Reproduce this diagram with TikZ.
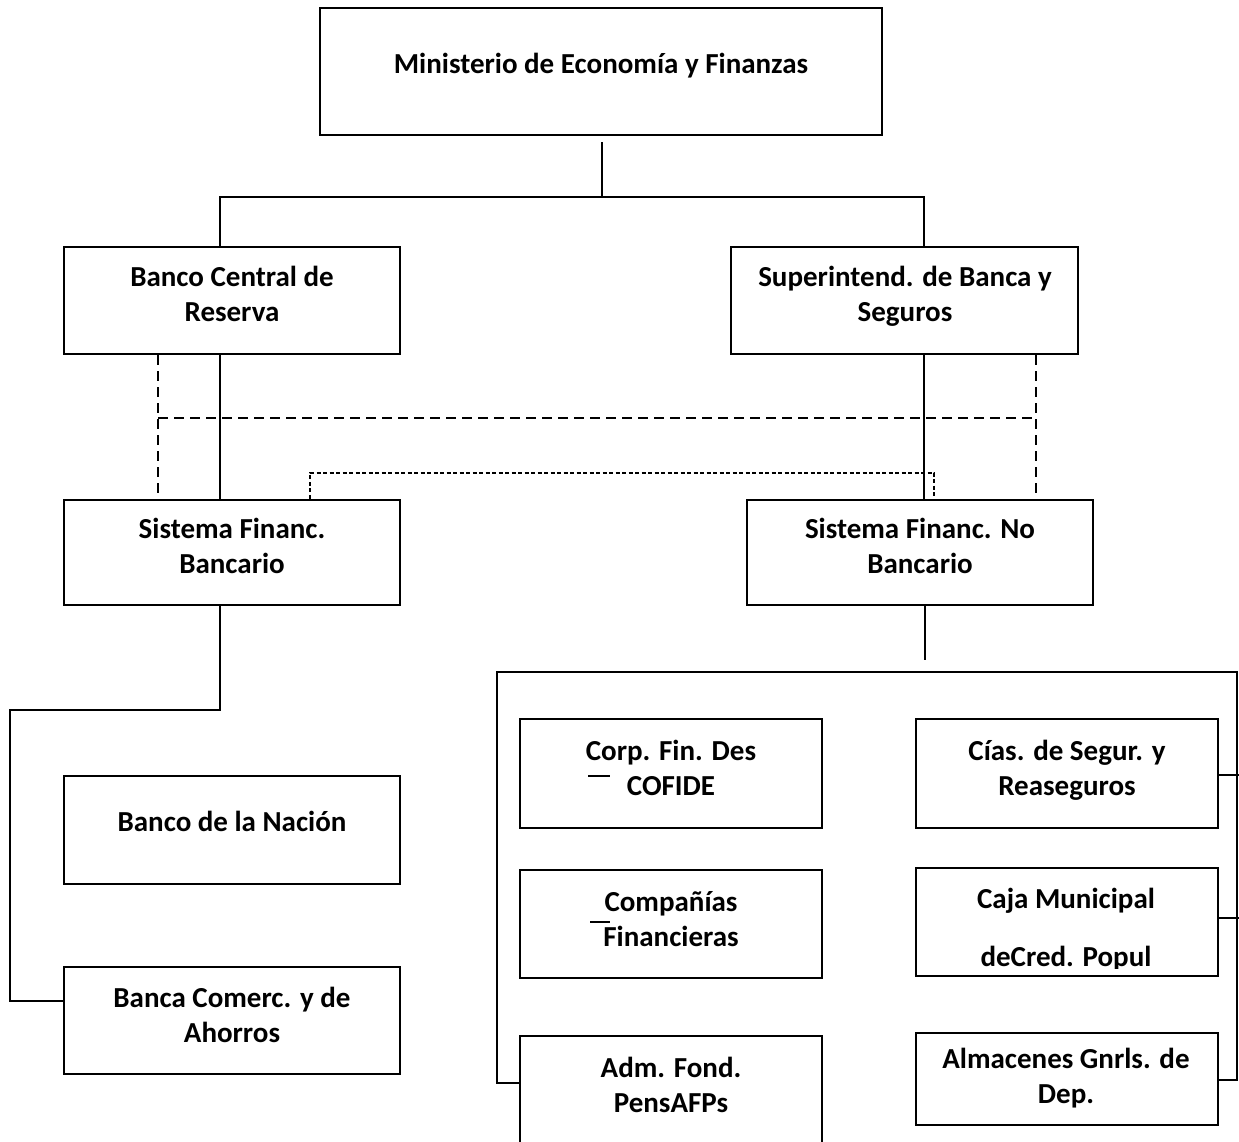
\documentclass[tikz,border=0pt]{standalone}
\usepackage{fontspec}
\setmainfont{Carlito}
\usetikzlibrary{fit}
\newcommand{\lbl}[1]{\begin{tabular}[t]{@{}c@{}}#1\end{tabular}}
\tikzset{
  box/.style={draw=black, line width=2.6pt, inner sep=0pt},
  txt/.style={anchor=base, inner sep=0pt, font=\fontsize{29}{35}\selectfont\bfseries},
  conn/.style={draw=black, line width=2pt},
  dashbig/.style={draw=black, line width=2pt, dash pattern=on 10pt off 6pt},
  dashfine/.style={draw=black, line width=2pt, dash pattern=on 4pt off 2.5pt}
}
\begin{document}
\begin{tikzpicture}[x=1pt,y=-1pt]
\useasboundingbox[fill=white] (0,0) rectangle (1239,1141);
% boxes
\node[box, fit={(320,8) (882,135)}] (min) {};
\node[box, fit={(64,247) (400,354)}] (bcr) {};
\node[box, fit={(731,247) (1078,354)}] (sbs) {};
\node[box, fit={(64,500) (400,605)}] (sfb) {};
\node[box, fit={(747,500) (1093,605)}] (sfnb) {};
\node[box, fit={(64,776) (400,884)}] (bnac) {};
\node[box, fit={(64,967) (400,1074)}] (bcom) {};
\node[box, fit={(520,719) (822,828)}] (corp) {};
\node[box, fit={(520,870) (822,978)}] (comp) {};
\node[box, fit={(520,1036) (822,1150)}] (adm) {};
\node[box, fit={(916,719) (1218,828)}] (cias) {};
\node[box, fit={(916,868) (1218,976)}] (caja) {};
\node[box, fit={(916,1033) (1218,1125)}] (alm) {};
% texts
\node[txt] (tmin) at (601,73) {Ministerio de Economía y Finanzas};
\node[txt] (tbcr) at (232,286) {\lbl{Banco Central de\\Reserva}};
\node[txt] (tsbs) at (905,286) {\lbl{Superintend. de Banca y\\Seguros}};
\node[txt] (tsfb) at (232,538) {\lbl{Sistema Financ.\\Bancario}};
\node[txt] (tsfnb) at (920,538) {\lbl{Sistema Financ. No\\Bancario}};
\node[txt] (tbnac) at (232,831) {Banco de la Nación};
\node[txt] (tbcom) at (232,1007) {\lbl{Banca Comerc. y de\\Ahorros}};
\node[txt] (tcorp) at (671,760) {\lbl{Corp. Fin. Des\\COFIDE}};
\node[txt] (tcomp) at (671,911) {\lbl{Compañías\\Financieras}};
\node[txt] (tadm) at (671,1077) {\lbl{Adm. Fond.\\PensAFPs}};
\node[txt] (tcias) at (1067,760) {\lbl{Cías. de Segur. y\\Reaseguros}};
\begin{scope}
\clip (916,868) rectangle (1218,968);
\node[txt] (tcaja) at (1066,908) {\lbl{Caja Municipal\\[23pt]deCred. Popul}};
\end{scope}
\node[txt] (talm) at (1066,1068) {\lbl{Almacenes Gnrls. de\\Dep.}};
% connectors
\coordinate (j1) at (602,197);
\draw[conn] ([yshift=-6pt,xshift=1pt]min.south) -- (j1);
\draw[conn] ([xshift=-12pt]bcr.north) |- (j1) -| ([xshift=19.5pt]sbs.north);
\draw[conn] ([xshift=-12pt]bcr.south) -- ([xshift=-12pt]sfb.north);
\draw[conn] ([xshift=19.5pt]sbs.south) -- ([xshift=4pt]sfnb.north);
% dashed
\coordinate (dl) at (158,418);
\coordinate (dr) at (1036,418);
\draw[dashbig] ([xshift=-74pt]bcr.south) -- ([xshift=-74pt,yshift=4pt]sfb.north);
\draw[dashbig] ([xshift=131.5pt]sbs.south) -- ([xshift=116pt,yshift=4pt]sfnb.north);
\draw[dashbig] (dl) -- (dr);
\draw[dashfine] ([xshift=78pt]sfb.north) |- ([xshift=14pt,yshift=26pt]sfnb.north) -- ([xshift=14pt,yshift=2pt]sfnb.north);
% banking branch
\coordinate (c1) at (10,710);
\draw[conn] ([xshift=-12pt]sfb.south) |- (c1) |- ([yshift=19.5pt]bcom.west);
% non-banking branch
\coordinate (tk) at (925,660);
\draw[conn] ([xshift=5pt]sfnb.south) -- (tk);
\coordinate (tl) at (497,672);
\coordinate (tr) at (1237,672);
\draw[conn] ([yshift=10pt]adm.west) -| (tl) -- (tr) |- ([yshift=-1pt]alm.east);
\draw[conn] ([yshift=-1.5pt]cias.east) -- ++(20,0);
\draw[conn] ([yshift=4pt]caja.east) -- ++(20,0);
% small stray marks
\coordinate (s1a) at (588,776); \coordinate (s1b) at (610,776);
\coordinate (s2a) at (590,922); \coordinate (s2b) at (610,922);
\draw[conn] (s1a) -- (s1b);
\draw[conn] (s2a) -- (s2b);
\end{tikzpicture}
\end{document}
